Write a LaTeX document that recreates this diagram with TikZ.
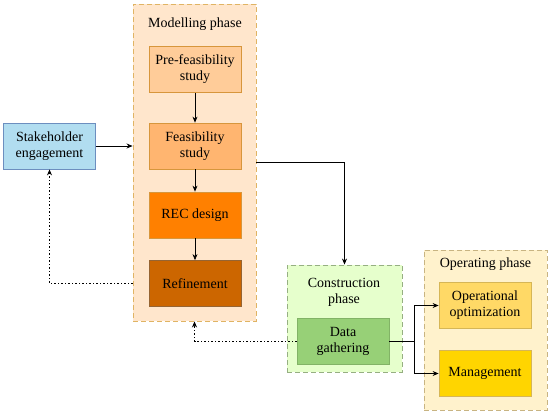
\documentclass[tikz,border=0pt]{standalone}
\usepackage{fontspec}
\setmainfont{Liberation Serif}
\newfontfamily\timesfont{Liberation Serif}
\definecolor{mypeach}{RGB}{255,230,204}
\definecolor{mygold}{RGB}{224,180,100}
\definecolor{myorangeA}{RGB}{255,204,153}
\definecolor{myorangeB}{RGB}{255,181,112}
\definecolor{myorangeC}{RGB}{255,128,0}
\definecolor{myorangeD}{RGB}{204,102,0}
\definecolor{myorangeline}{RGB}{215,150,60}
\definecolor{mybrownline}{RGB}{150,100,50}
\definecolor{myblue}{RGB}{177,221,240}
\definecolor{mybluel}{RGB}{108,142,191}
\definecolor{mylime}{RGB}{230,255,204}
\definecolor{mygreenl}{RGB}{150,175,130}
\definecolor{mygreen}{RGB}{151,208,119}
\definecolor{mygreenb}{RGB}{130,179,102}
\definecolor{mycream}{RGB}{255,242,204}
\definecolor{mysand}{RGB}{200,180,130}
\definecolor{myyellowA}{RGB}{255,217,102}
\definecolor{myyellowB}{RGB}{255,213,0}
\definecolor{myyellowl}{RGB}{214,182,86}
\usetikzlibrary{positioning,arrows.meta}

\begin{document}
\begin{tikzpicture}[x=1pt,y=-1pt,font=\timesfont\fontsize{14}{16}\selectfont,
    box/.style={draw,line width=0.8pt,minimum width=92pt,minimum height=46pt,
      align=center,inner sep=1pt},
    phase/.style={draw,dash pattern=on 5pt off 3pt,line width=0.9pt},
    arr/.style={-{Stealth[length=6pt,width=5pt]},line width=0.7pt},
    fb/.style={arr,dash pattern=on 1.5pt off 2pt}]
    \useasboundingbox (0,0) rectangle (550,413);
    % containers
    \node[phase,fill=mypeach,draw=mygold,minimum width=123pt,minimum height=317pt]
      (model) at (194.5,162.5) {};
    \node[phase,fill=mylime,draw=mygreenl,minimum width=115pt,minimum height=107pt]
      (constr) at (344.5,318.5) {};
    \node[phase,fill=mycream,draw=mysand,minimum width=123pt,minimum height=160pt]
      (oper) at (485.5,330) {};
    \node (modeltitle) at (195,24) {Modelling phase};
    \node[align=center] (constrtitle) at (344,292) {Construction\\phase};
    \node (opertitle) at (485.5,264) {Operating phase};
    % modelling steps
    \node[box,fill=myorangeA,draw=myorangeline] (pre) at (195,69.5) {Pre-feasibility\\study};
    \node[box,fill=myorangeB,draw=myorangeline] (feas) at (195,146) {Feasibility\\study};
    \node[box,fill=myorangeC,draw=myorangeline] (rec) at (195,215) {REC design};
    \node[box,fill=myorangeD,draw=mybrownline] (refine) at (195,283.5) {Refinement};
    \node[box,fill=myblue,draw=mybluel] (stake) at (49.5,146) {Stakeholder\\engagement};
    % construction and operation
    \node[box,fill=mygreen,draw=mygreenb] (data) at (343,341) {Data\\gathering};
    \node[box,fill=myyellowA,draw=myyellowl] (opt) at (485,305.5) {Operational\\optimization};
    \node[box,fill=myyellowB,draw=myyellowl] (mgmt) at (485,373.5) {Management};
    \coordinate (split) at (414,341);
    % arrows
    \draw[arr] (pre) -- (feas);
    \draw[arr] (feas) -- (rec);
    \draw[arr] (rec) -- (refine);
    \draw[arr] (stake.east) -- (stake.east -| model.west);
    \draw[arr] (model.east) -| (constr.north);
    \draw[fb] (model.west |- refine) -| (stake.south);
    \draw[fb] (data.west) -| (model.south);
    \draw[line width=0.7pt] (data.east) -- (split);
    \draw[arr] (split) |- (opt.west);
    \draw[arr] (split) |- (mgmt.west);
  \end{tikzpicture}
\end{document}
